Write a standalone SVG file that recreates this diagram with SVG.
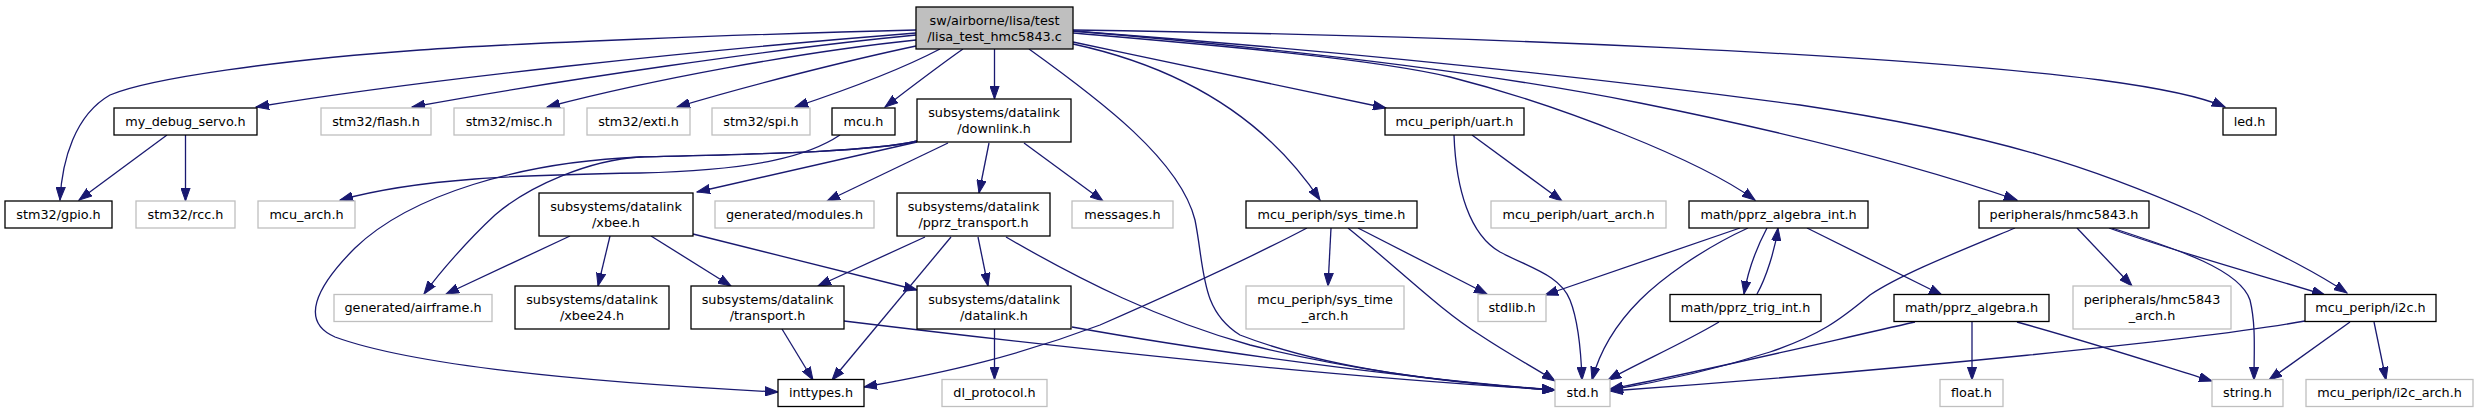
<svg xmlns="http://www.w3.org/2000/svg" width="2477" height="413" viewBox="0 0 2477 413">
<style>
.n rect{fill:#fff;stroke:#000;stroke-width:1.3}
.g rect{fill:#fff;stroke:#bfbfbf;stroke-width:1.3}
.m rect{fill:#bfbfbf;stroke:#000;stroke-width:1.3}
text{font-family:"DejaVu Sans","Liberation Sans",sans-serif;font-size:12.8px;fill:#000;text-anchor:middle}
#edges path{fill:none;stroke:#191970;stroke-width:1.3;marker-end:url(#ah)}
</style>
<defs>
<marker id="ah" markerUnits="userSpaceOnUse" markerWidth="14" markerHeight="10" refX="13" refY="5" orient="auto" viewBox="0 0 14 10">
<path d="M0,0.4 L13,5 L0,9.6 z" fill="#191970" stroke="#191970" stroke-width="1"/>
</marker>
</defs>
<rect width="2477" height="413" fill="#fff"/>
<g id="edges">
<path d="M916,30 C750,34 500,44 420,50 C280,60 150,78 110,95 C75,115 62,160 60,200"/>
<path d="M916,33 C700,50 420,80 256,107"/>
<path d="M916,35 C780,48 560,80 412,107"/>
<path d="M916,40 C800,52 650,80 547,107"/>
<path d="M916,46 C850,60 750,85 677,107"/>
<path d="M940,49 C900,70 840,92 795,107"/>
<path d="M963,49 C940,65 910,88 885,107"/>
<path d="M994.5,49 L994.5,99"/>
<path d="M1029,49 C1100,100 1180,160 1195,220 C1205,270 1200,310 1240,335 C1330,370 1450,383 1555,390"/>
<path d="M1073,42 C1180,65 1290,88 1386,108"/>
<path d="M1073,44 C1170,65 1260,110 1320,200"/>
<path d="M1073,33 C1200,44 1370,58 1450,77 C1560,105 1700,160 1755,200"/>
<path d="M1073,31 C1300,50 1500,75 1640,103 C1800,135 1930,170 2017,200"/>
<path d="M1073,31 C1300,48 1550,72 1800,105 C2000,135 2100,170 2200,215 C2260,245 2310,268 2347,293"/>
<path d="M1073,30 C1500,36 1900,55 2100,80 C2160,88 2200,96 2225,107"/>
<path d="M167,135 L79,200"/>
<path d="M185.5,135 L185.5,201"/>
<path d="M840,135 C810,155 760,170 640,173 C520,175 420,178 340,200"/>
<path d="M917,141 C870,152 760,154 640,157 C590,160 530,185 495,215 C468,240 440,272 424,294"/>
<path d="M917,141 C870,152 760,154 640,157 C520,162 410,195 355,248 C315,288 300,322 335,337 C420,368 620,384 778,392"/>
<path d="M917,142 L697,192"/>
<path d="M948,143 L827,201"/>
<path d="M989,143 L979,193"/>
<path d="M1024,143 L1103,201"/>
<path d="M570,236 L446,294"/>
<path d="M610,236 L598,286"/>
<path d="M651,236 L731,286"/>
<path d="M693,234 L917,290"/>
<path d="M925,237 L818,286"/>
<path d="M951,237 L832,380"/>
<path d="M978,237 L988,286"/>
<path d="M1006,237 C1080,280 1160,320 1250,345 C1350,370 1450,383 1555,390"/>
<path d="M994.5,329 L994.5,379.5"/>
<path d="M1072,327 C1200,350 1400,378 1555,390"/>
<path d="M844,321 C1000,340 1300,375 1555,390"/>
<path d="M782,329 L813,380"/>
<path d="M1307,228 C1250,258 1180,290 1100,325 C1020,355 950,372 864,387"/>
<path d="M1331,228 L1328,286"/>
<path d="M1348,228 C1400,270 1440,310 1480,335 C1510,355 1535,368 1555,381"/>
<path d="M1358,228 L1487,294"/>
<path d="M1454,135 C1456,190 1470,235 1500,252 C1530,268 1560,275 1570,300 C1578,320 1581,350 1582,380"/>
<path d="M1472,135 L1562,201"/>
<path d="M1740,228 L1545,295"/>
<path d="M1748,228 C1700,250 1660,280 1640,300 C1615,325 1600,350 1592,380"/>
<path d="M1767,228 C1758,245 1748,270 1744,294"/>
<path d="M1757,294 C1766,278 1775,250 1778,228"/>
<path d="M1807,228 L1942,295"/>
<path d="M1719,322 C1680,345 1640,362 1608,380"/>
<path d="M1915,322 C1800,348 1700,372 1610,389"/>
<path d="M1972,321 L1972,380"/>
<path d="M2017,322 C2100,345 2160,365 2212,381"/>
<path d="M2015,228 C1950,255 1900,275 1870,295 C1840,320 1820,335 1770,352 C1720,368 1660,382 1610,390"/>
<path d="M2077,228 L2132,286"/>
<path d="M2109,228 C2170,250 2260,275 2325,295"/>
<path d="M2112,228 C2180,250 2240,270 2250,300 C2256,325 2254,350 2254,380"/>
<path d="M2305,321 C2200,340 1900,370 1610,391"/>
<path d="M2350,322 L2269,380"/>
<path d="M2374,322 L2386,380"/>
</g>
<g id="n_main" class="m"><rect x="916" y="7" width="157" height="42"/><text x="994.5" y="25">sw/airborne/lisa/test</text><text x="994.5" y="40.5">/lisa_test_hmc5843.c</text></g>
<g id="n_my_debug_servo" class="n"><rect x="114" y="108" width="143" height="27"/><text x="185.5" y="125.5">my_debug_servo.h</text></g>
<g id="n_gpio" class="n"><rect x="5" y="201" width="107" height="27"/><text x="58.5" y="218.5">stm32/gpio.h</text></g>
<g id="n_rcc" class="g"><rect x="136" y="201" width="99" height="27"/><text x="185.5" y="218.5">stm32/rcc.h</text></g>
<g id="n_flash" class="g"><rect x="321" y="108" width="110" height="27"/><text x="376" y="125.5">stm32/flash.h</text></g>
<g id="n_misc" class="g"><rect x="454" y="108" width="110" height="27"/><text x="509" y="125.5">stm32/misc.h</text></g>
<g id="n_exti" class="g"><rect x="587" y="108" width="103" height="27"/><text x="638.5" y="125.5">stm32/exti.h</text></g>
<g id="n_spi" class="g"><rect x="712" y="108" width="98" height="27"/><text x="761" y="125.5">stm32/spi.h</text></g>
<g id="n_mcu" class="n"><rect x="832" y="108" width="63" height="27"/><text x="863.5" y="125.5">mcu.h</text></g>
<g id="n_downlink" class="n"><rect x="917" y="99" width="154" height="43"/><text x="994" y="117">subsystems/datalink</text><text x="994" y="132.5">/downlink.h</text></g>
<g id="n_mcu_arch" class="g"><rect x="258" y="201" width="97" height="27"/><text x="306.5" y="218.5">mcu_arch.h</text></g>
<g id="n_airframe" class="g"><rect x="334" y="294.5" width="158" height="27"/><text x="413" y="312">generated/airframe.h</text></g>
<g id="n_xbee" class="n"><rect x="539" y="193" width="154" height="43"/><text x="616" y="211">subsystems/datalink</text><text x="616" y="226.5">/xbee.h</text></g>
<g id="n_modules" class="g"><rect x="715" y="201" width="159" height="27"/><text x="794.5" y="218.5">generated/modules.h</text></g>
<g id="n_pprz_transport" class="n"><rect x="897" y="193" width="153" height="43"/><text x="973.5" y="211">subsystems/datalink</text><text x="973.5" y="226.5">/pprz_transport.h</text></g>
<g id="n_messages" class="g"><rect x="1072" y="201" width="101" height="27"/><text x="1122.5" y="218.5">messages.h</text></g>
<g id="n_xbee24" class="n"><rect x="515" y="286" width="154" height="43"/><text x="592" y="304">subsystems/datalink</text><text x="592" y="319.5">/xbee24.h</text></g>
<g id="n_transport" class="n"><rect x="691" y="286" width="153" height="43"/><text x="767.5" y="304">subsystems/datalink</text><text x="767.5" y="319.5">/transport.h</text></g>
<g id="n_datalink" class="n"><rect x="917" y="286" width="154" height="43"/><text x="994" y="304">subsystems/datalink</text><text x="994" y="319.5">/datalink.h</text></g>
<g id="n_inttypes" class="n"><rect x="778" y="379.5" width="86" height="27"/><text x="821" y="397">inttypes.h</text></g>
<g id="n_dl_protocol" class="g"><rect x="942" y="379.5" width="105" height="27"/><text x="994.5" y="397">dl_protocol.h</text></g>
<g id="n_uart" class="n"><rect x="1385" y="108" width="139" height="27"/><text x="1454.5" y="125.5">mcu_periph/uart.h</text></g>
<g id="n_sys_time" class="n"><rect x="1246" y="201" width="171" height="27"/><text x="1331.5" y="218.5">mcu_periph/sys_time.h</text></g>
<g id="n_uart_arch" class="g"><rect x="1491" y="201" width="175" height="27"/><text x="1578.5" y="218.5">mcu_periph/uart_arch.h</text></g>
<g id="n_sys_time_arch" class="g"><rect x="1246" y="286" width="158" height="43"/><text x="1325" y="304">mcu_periph/sys_time</text><text x="1325" y="319.5">_arch.h</text></g>
<g id="n_stdlib" class="g"><rect x="1478" y="294.5" width="68" height="27"/><text x="1512" y="312">stdlib.h</text></g>
<g id="n_std" class="g"><rect x="1555" y="379.5" width="55" height="27"/><text x="1582.5" y="397">std.h</text></g>
<g id="n_pprz_algebra_int" class="n"><rect x="1689" y="201" width="179" height="27"/><text x="1778.5" y="218.5">math/pprz_algebra_int.h</text></g>
<g id="n_pprz_trig_int" class="n"><rect x="1670" y="294.5" width="151" height="27"/><text x="1745.5" y="312">math/pprz_trig_int.h</text></g>
<g id="n_pprz_algebra" class="n"><rect x="1894" y="294.5" width="155" height="27"/><text x="1971.5" y="312">math/pprz_algebra.h</text></g>
<g id="n_float" class="g"><rect x="1940" y="379.5" width="63" height="27"/><text x="1971.5" y="397">float.h</text></g>
<g id="n_hmc5843" class="n"><rect x="1979" y="201" width="170" height="27"/><text x="2064" y="218.5">peripherals/hmc5843.h</text></g>
<g id="n_led" class="n"><rect x="2223" y="108" width="53" height="27"/><text x="2249.5" y="125.5">led.h</text></g>
<g id="n_hmc5843_arch" class="g"><rect x="2073" y="286" width="158" height="43"/><text x="2152" y="304">peripherals/hmc5843</text><text x="2152" y="319.5">_arch.h</text></g>
<g id="n_i2c" class="n"><rect x="2305" y="294.5" width="131" height="27"/><text x="2370.5" y="312">mcu_periph/i2c.h</text></g>
<g id="n_string" class="g"><rect x="2212" y="379.5" width="71" height="27"/><text x="2247.5" y="397">string.h</text></g>
<g id="n_i2c_arch" class="g"><rect x="2306" y="379.5" width="167" height="27"/><text x="2389.5" y="397">mcu_periph/i2c_arch.h</text></g>
</svg>
